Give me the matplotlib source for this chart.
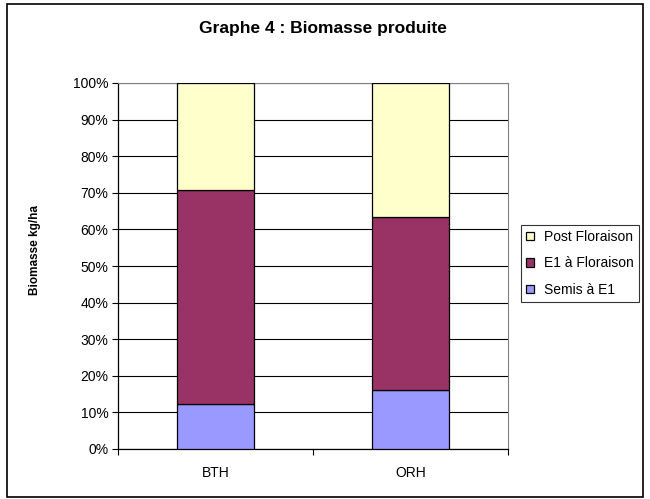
import numpy as np
import matplotlib.pyplot as plt
from matplotlib.patches import Rectangle

plt.rcParams['font.family'] = ['Liberation Sans', 'DejaVu Sans']

categories = ["BTH", "ORH"]
semis_e1 = [12.2, 16.1]
e1_floraison = [58.5, 47.2]
post_floraison = [29.3, 36.7]

col_semis = "#9999FF"
col_e1 = "#993366"
col_post = "#FFFFCC"

fig = plt.figure(figsize=(6.5, 4.99), dpi=100)
ax = fig.add_axes([118 / 650, 50 / 499, 390 / 650, 366 / 499])

x = np.arange(len(categories))
w = 0.395
b1 = ax.bar(x, semis_e1, w, color=col_semis, edgecolor="black", linewidth=0.9, zorder=3,
            label="Semis à E1")
bottom2 = np.array(semis_e1)
b2 = ax.bar(x, e1_floraison, w, bottom=bottom2, color=col_e1, edgecolor="black",
            linewidth=0.9, zorder=3, label="E1 à Floraison")
bottom3 = bottom2 + np.array(e1_floraison)
b3 = ax.bar(x, post_floraison, w, bottom=bottom3, color=col_post, edgecolor="black",
            linewidth=0.9, zorder=3, label="Post Floraison")

ax.set_xlim(-0.5, 1.5)
ax.set_ylim(0, 100)
yt = np.arange(0, 101, 10)
ax.set_yticks(yt)
ax.set_yticklabels([f"{v}%" for v in yt], fontsize=10)
ax.yaxis.grid(True, color="black", linewidth=0.8, zorder=0)
ax.tick_params(axis="y", direction="out", length=4, width=0.8, pad=3)

# category ticks at boundaries, labels at centres
ax.set_xticks([-0.5, 0.5, 1.5])
ax.set_xticklabels([])
ax.set_xticks(x, minor=True)
ax.set_xticklabels(categories, minor=True, fontsize=10)
ax.tick_params(axis="x", which="major", direction="out", length=4, width=0.8)
ax.tick_params(axis="x", which="minor", length=0, pad=12)

for side in ["top", "right"]:
    ax.spines[side].set_color("#808080")
    ax.spines[side].set_linewidth(0.8)
ax.spines["left"].set_linewidth(0.9)
ax.spines["bottom"].set_linewidth(0.9)

fig.text(323 / 650, 1 - 29 / 499, "Graphe 4 : Biomasse produite", ha="center", va="center",
         fontsize=12.5, fontweight="bold")
fig.text(35 / 650, 1 - 250 / 499, "Biomasse kg/ha", ha="center", va="center",
         rotation=90, fontsize=8.5, fontweight="bold")

leg = fig.legend(handles=[b3, b2, b1], loc="upper left",
                 bbox_to_anchor=(521 / 650, 1 - 225 / 499), fontsize=10,
                 frameon=True, fancybox=False, edgecolor="black", borderpad=0.35,
                 handlelength=0.55, handleheight=0.55, handletextpad=0.75,
                 labelspacing=0.9, borderaxespad=0)
leg.get_frame().set_linewidth(0.8)

fig.patches.append(Rectangle((7 / 650, 2 / 499), 636 / 650, 493 / 499,
                             transform=fig.transFigure, fill=False,
                             edgecolor="black", linewidth=1.2))

fig.savefig("out.png", dpi=100)
